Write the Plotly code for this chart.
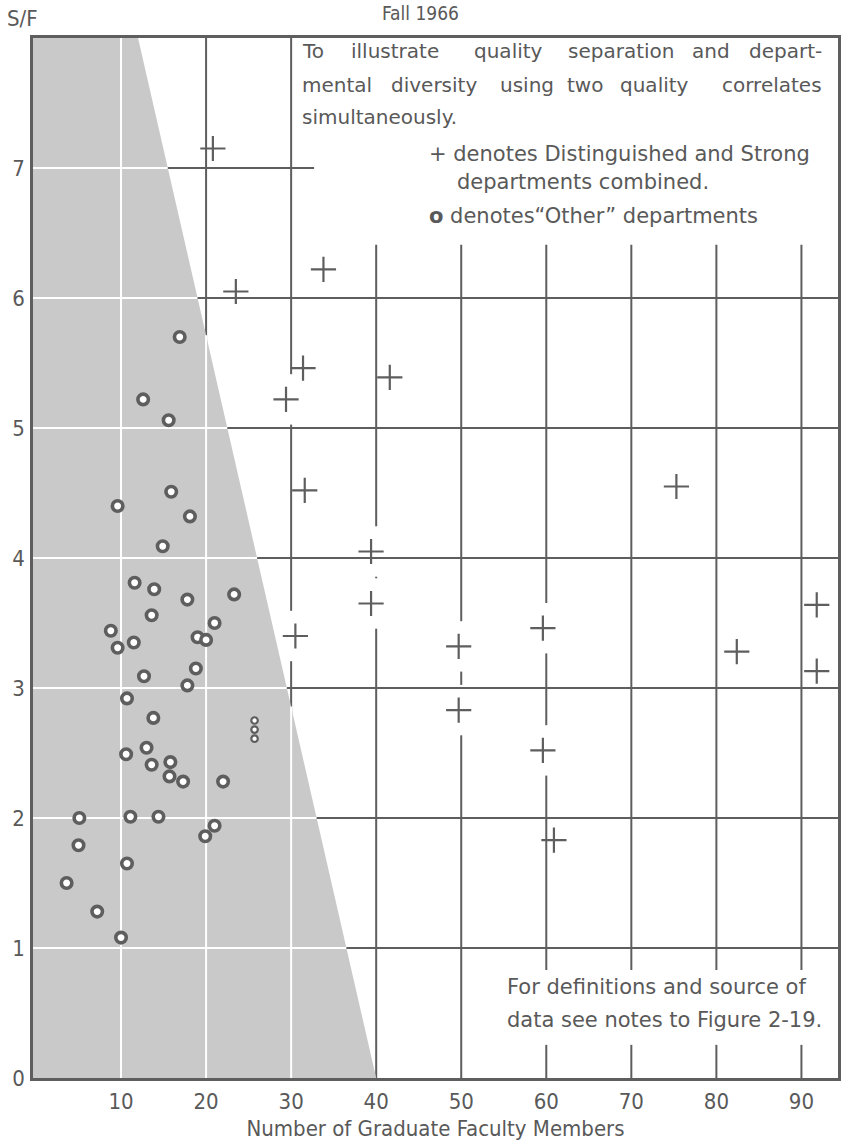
import plotly.graph_objects as go

# ---- data -------------------------------------------------------------
# Distinguished and Strong departments (+)
strong_faculty = [20.8, 23.5, 33.8, 31.4, 41.6, 29.4, 31.6, 75.3, 39.4, 39.4,
                  30.5, 49.7, 49.7, 59.6, 59.6, 60.9, 91.8, 91.8, 82.4]
strong_sf = [7.15, 6.05, 6.22, 5.46, 5.39, 5.22, 4.52, 4.55, 4.05, 3.65,
             3.40, 3.32, 2.83, 3.46, 2.52, 1.83, 3.64, 3.13, 3.28]

# "Other" departments (o)
other_faculty = [16.9, 12.6, 15.6, 15.9, 9.6, 18.1, 14.9,
                 11.6, 13.9, 17.8, 23.3, 13.6, 21.0, 8.8, 19.0, 20.0, 9.6, 11.5,
                 18.8, 12.7, 17.8, 10.7, 13.8, 13.0, 10.6, 15.8, 13.6, 15.7,
                 17.3, 22.0, 5.1, 11.1, 14.4, 21.0, 19.9, 5.0, 10.7, 3.6, 7.2, 10.0]
other_sf = [5.70, 5.22, 5.06, 4.51, 4.40, 4.32, 4.09,
            3.81, 3.76, 3.68, 3.72, 3.56, 3.50, 3.44, 3.39, 3.37, 3.31, 3.35,
            3.15, 3.09, 3.02, 2.92, 2.77, 2.54, 2.49, 2.43, 2.41, 2.32,
            2.28, 2.28, 2.00, 2.01, 2.01, 1.94, 1.86, 1.79, 1.65, 1.50, 1.28, 1.08]

# three small stacked "Other" marks at the same faculty count
other_small_faculty = [25.7, 25.7, 25.7]
other_small_sf = [2.75, 2.68, 2.61]

x_ticks = [10, 20, 30, 40, 50, 60, 70, 80, 90]
y_ticks = [0, 1, 2, 3, 4, 5, 6, 7]

# shaded "Other" zone: boundary runs from faculty 40 at S/F 0 to 12 at S/F 8
zone_base = 40.0
zone_slope = 3.5

X_MIN, X_MAX = -0.35, 94.3
Y_MIN, Y_MAX = 0.0, 8.0

INK = "#5e5e5e"
TEXT = "#595959"
SHADE = "#c9c9c9"
COND = "DejaVu Sans Condensed, Liberation Sans Narrow, Arial Narrow, sans-serif"
BODY = "DejaVu Sans, Verdana, sans-serif"


def zone_edge(y):
    return zone_base - zone_slope * y


shapes = []


def seg(x0, y0, x1, y1, color=INK, width=2, layer="below"):
    shapes.append(dict(type="line", xref="x", yref="y", x0=x0, y0=y0, x1=x1, y1=y1,
                       line=dict(color=color, width=width), layer=layer))


# dark vertical rules in the open area
seg(20, Y_MIN, 20, Y_MAX)
seg(30, Y_MIN, 30, Y_MAX)
seg(40, Y_MIN, 40, 6.41)
seg(50, Y_MIN, 50, 6.41)
for xv in [60, 70, 80, 90]:
    seg(xv, Y_MIN, xv, 0.255)
    seg(xv, 0.83, xv, 6.41)

# shaded zone
shapes.append(dict(type="path", xref="x", yref="y",
                   path=f"M {X_MIN},{Y_MIN} L {zone_edge(Y_MIN)},{Y_MIN} "
                        f"L {zone_edge(Y_MAX)},{Y_MAX} L {X_MIN},{Y_MAX} Z",
                   fillcolor=SHADE, line=dict(width=0), layer="below"))

# white rules inside the shaded zone
seg(10, Y_MIN, 10, Y_MAX, color="white")
seg(20, Y_MIN, 20, (zone_base - 20) / zone_slope, color="white")
seg(30, Y_MIN, 30, (zone_base - 30) / zone_slope, color="white")
for yv in [1, 2, 3, 4, 5, 6, 7]:
    seg(X_MIN, yv, zone_edge(yv), yv, color="white")

# dark horizontal rules, starting at the zone edge
seg(zone_edge(7), 7, 32.7, 7, layer="above")
for yv in [1, 2, 3, 4, 5, 6]:
    seg(zone_edge(yv), yv, X_MAX, yv, layer="above")

# rule breaks where a + sits on a vertical rule
v_rules = [20, 30, 40, 50, 60, 70, 80, 90]
brk_x, brk_y = [], []
for xv, yv in zip(strong_faculty, strong_sf):
    near = min(v_rules, key=lambda g: abs(g - xv))
    if abs(near - xv) < 0.7:
        brk_x.append(near)
        brk_y.append(yv)

fig = go.Figure()
fig.add_trace(go.Scatter(x=brk_x, y=brk_y, mode="markers", hoverinfo="skip",
                         marker=dict(symbol="line-ns", size=36,
                                     line=dict(color="white", width=5))))
fig.add_trace(go.Scatter(x=other_faculty, y=other_sf, mode="markers", name="Other",
                         marker=dict(symbol="circle", size=10.5, color="white",
                                     line=dict(color=INK, width=3.6))))
fig.add_trace(go.Scatter(x=other_small_faculty, y=other_small_sf, mode="markers",
                         name="Other (small)",
                         marker=dict(symbol="circle", size=6.5, color="white",
                                     line=dict(color=INK, width=2.2))))
fig.add_trace(go.Scatter(x=strong_faculty, y=strong_sf, mode="markers",
                         name="Distinguished and Strong",
                         marker=dict(symbol="cross-thin", size=18,
                                     line=dict(color=INK, width=2.2))))

annotations = []


def text(x, y, s, anchor="left", size=21, family=BODY, xref="x", yref="y", yanchor="middle"):
    annotations.append(dict(x=x, y=y, xref=xref, yref=yref, text=s, showarrow=False,
                            xanchor=anchor, yanchor=yanchor,
                            font=dict(family=family, size=size, color=TEXT)))


def justified(line, left, right, y, size=21):
    words = line.split(" ")
    n = len(line)
    pos = 0
    for i, w in enumerate(words):
        if i == 0:
            text(left, y, w, "left", size)
        elif i == len(words) - 1:
            text(right, y, w, "right", size)
        else:
            c = left + (right - left) * (pos + len(w) / 2) / n
            text(c, y, w, "center", size)
        pos += len(w) + 1


justified("To illustrate quality separation and depart-", 31.05, 92.6, 7.90, 20)
justified("mental diversity using two quality correlates", 31.05, 92.6, 7.64, 20)
text(31.05, 7.39, "simultaneously.", size=20)
text(46.0, 7.11, "+ denotes Distinguished and Strong")
text(49.3, 6.89, "departments combined.")
text(46.0, 6.63, "<b>o</b> denotes\u201cOther\u201d departments")

text(55.2, 0.70, "For definitions and source of")
text(55.2, 0.445, "data see notes to Figure 2-19.")

text(-0.035, 1.033, "S/F", anchor="left", size=22, family=COND,
     xref="paper", yref="paper", yanchor="top")
text(0.481, 1.0365, "Fall 1966", anchor="center", size=19, family=COND,
     xref="paper", yref="paper", yanchor="top")

fig.update_layout(
    width=846, height=1147,
    margin=dict(l=33, r=5, t=38, b=69),
    paper_bgcolor="white", plot_bgcolor="white",
    showlegend=False,
    shapes=shapes,
    annotations=annotations,
    xaxis=dict(range=[X_MIN, X_MAX], tickvals=x_ticks, ticktext=[str(v) for v in x_ticks],
               showgrid=False, zeroline=False, showline=True, mirror=True,
               linecolor=INK, linewidth=2.5, ticks="", ticklabelstandoff=2,
               tickfont=dict(family=COND, size=22, color=TEXT),
               title=dict(text="Number of Graduate Faculty Members", standoff=8,
                          font=dict(family=COND, size=22, color=TEXT))),
    yaxis=dict(range=[Y_MIN, Y_MAX], tickvals=y_ticks, ticktext=[str(v) for v in y_ticks],
               showgrid=False, zeroline=False, showline=True, mirror=True,
               linecolor=INK, linewidth=2.5, ticks="", ticklabelstandoff=1,
               tickfont=dict(family=COND, size=22, color=TEXT)),
)

fig.write_html("out.html")
